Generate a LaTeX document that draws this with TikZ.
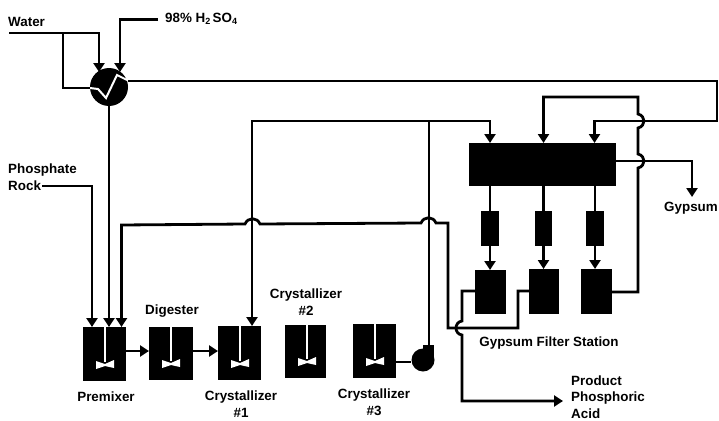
\documentclass[tikz,border=0pt]{standalone}
\usepackage{fontspec}
\setmainfont{Liberation Sans}
\usetikzlibrary{arrows.meta}
\newcommand{\lbl}{\fontsize{13.4}{17}\selectfont\bfseries}
\newcommand{\subsc}[1]{\raisebox{-2pt}{\fontsize{9}{9}\selectfont\bfseries #1}}
\tikzset{
 flow/.style={draw=black,line width=2.8pt,line join=miter},
 feed/.style={flow,-{Triangle[length=9pt,width=11pt]}},
 block/.style={fill=black,draw=none,inner sep=0pt,outer sep=0pt,rectangle},
 lab/.style={font=\lbl,text=black,inner sep=0pt,align=center},
 labl/.style={lab,align=left,anchor=west},
}
% vessel with a white shaft and paddle: #1 name, #2 left, #3 right, #4 top, #5 bottom, #6 shaft x
\newcommand{\vessel}[6]{%
 \node[block,minimum width={(#3-#2)*1pt},minimum height={(#5-#4)*1pt}] (#1) at ({(#2+#3)/2},{(#4+#5)/2}) {};
 \fill[white] (#6-1.3,#4) rectangle (#6+1.3,#5-19);
 \fill[white] (#6-9,#5-20) -- (#6,#5-17) -- (#6+9,#5-21) -- (#6+9,#5-13) -- (#6,#5-15) -- (#6-9,#5-12) -- cycle;
}
\newcommand{\boxn}[5]{%
 \node[block,minimum width={(#3-#2)*1pt},minimum height={(#5-#4)*1pt}] (#1) at ({(#2+#3)/2},{(#4+#5)/2}) {};
}
\begin{document}
\begin{tikzpicture}[x=1pt,y=-1pt]
\useasboundingbox (0,0) rectangle (719,420);
\fill[white] (0,0) rectangle (719,420);

% Blocks
\vessel{premixer}{83}{126}{327}{381}{105}
\vessel{digester}{149}{193}{327}{380}{171}
\vessel{cryA}{218}{261}{326}{380}{240}
\vessel{cryB}{285}{326}{325}{378}{307}
\vessel{cryC}{353}{396}{324}{378}{375}
\boxn{filter}{469}{616}{143}{186}
\boxn{fa}{481}{499}{211}{246}
\boxn{fb}{535}{552}{211}{246}
\boxn{fc}{586}{604}{211}{246}
\boxn{ra}{475}{506}{270}{314}
\boxn{rb}{529}{559}{269}{314}
\boxn{rc}{581}{612}{269}{314}

% Mixer / cooler
\node[circle,fill=black,inner sep=0pt,minimum size=38pt] (cooler) at (109,87) {};
\draw[white,line width=2pt] (90,88) -- (98,89) -- (106,98) -- (117,75) -- (127,80);

% Pump
\node[circle,fill=black,inner sep=0pt,minimum size=23pt] (pump) at (423,360) {};
\fill[black] (423,345) rectangle (434,360);

% Labels
\node[labl] (water) at (8,22) {Water};
\node[labl] (acid) at (165,19) {98\% H\subsc{2}\,SO\subsc{4}};
\node[labl] (rock) at (8,177) {Phosphate\\Rock};
\node[lab] (tdig) at (172,311) {Digester};
\node[lab] (tpre) at (106,397) {Premixer};
\node[lab] (tca) at (241,404) {Crystallizer\\\#1};
\node[lab] (tcb) at (306,302) {Crystallizer\\\#2};
\node[lab] (tcc) at (374,402) {Crystallizer\\\#3};
\node[lab] (tstation) at (549,343) {Gypsum Filter Station};
\node[lab] (tgyp) at (691,208) {Gypsum};
\node[labl,font=\fontsize{13.4}{16.5}\selectfont\bfseries] (tprod) at (571,397) {Product\\Phosphoric\\Acid};

% Free ends and ports
\coordinate (w0) at (9,33);
\coordinate (a0) at (158,19.5);
\coordinate (r0) at (42,186);

% Water and acid to cooler
\draw[feed] (w0) -- (99,33) -- (99,72);
\draw[flow] (63,33) -- (63,88) -- (cooler.west |- 0,88);
\draw[feed] (a0) -- (120,19.5) -- (120,72);

% Cooler overhead to filter wash
\draw[feed] (cooler.east |- 0,81) -- (717,81) -- (717,121) -- (594.5,121) -- (filter.north -| 594.5,0);

% Feeds to premixer
\draw[feed] (cooler.south) -- (premixer.north -| 109,0);
\draw[feed] (r0) -- (92,186) -- (premixer.north -| 92,0);

% Premixer train
\draw[feed] (premixer.east |- 0,351) -- (digester.west |- 0,351);
\draw[feed] (digester.east |- 0,351) -- (cryA.west |- 0,351);

% Crystallizer 3 to pump to filter + recycle
\draw[flow] (cryC.east |- 0,362) -- (pump.west |- 0,362);
\draw[flow] (429,345) -- (429,121);
\draw[feed] (252,121) -- (490,121) -- (filter.north -| 490,0);
\draw[feed] (252,120) -- (cryA.north -| 252,0);

% Middle filter wash with bumps
\draw[feed] (rc.east |- 0,292) -- (638,292) -- (638,168) .. controls (646,166) and (646,156) .. (638,154) -- (638,128) .. controls (646,126) and (646,116) .. (638,114) -- (638,97) -- (543.5,97) -- (filter.north -| 543.5,0);

% Gypsum out
\draw[feed] (filter.east |- 0,161) -- (692,161) -- (692,197);

% Filter legs
\draw[flow] (filter.south -| fa.north) -- (fa.north);
\draw[flow] (filter.south -| fb.north) -- (fb.north);
\draw[flow] (filter.south -| fc.north) -- (fc.north);
\draw[feed] (fa.south) -- (fa.south |- ra.north);
\draw[feed] (fb.south) -- (fb.south |- rb.north);
\draw[feed] (fc.south) -- (fc.south |- rc.north);

% Liquor return to premixer
\draw[feed] (rb.west |- 0,291) -- (518,291) -- (518,328) -- (448,328) -- (448,223) -- (436,223)
  .. controls (433,216) and (424,216) .. (421,223) -- (260,224)
  .. controls (257,217) and (248,217) .. (245,224) -- (121.5,225) -- (premixer.north -| 121.5,0);

% Product out
\draw[feed] (ra.west |- 0,291) -- (462,291) -- (462,321)
  .. controls (454,322) and (454,334) .. (462,335) -- (462,401) -- (563,401);
\end{tikzpicture}
\end{document}
